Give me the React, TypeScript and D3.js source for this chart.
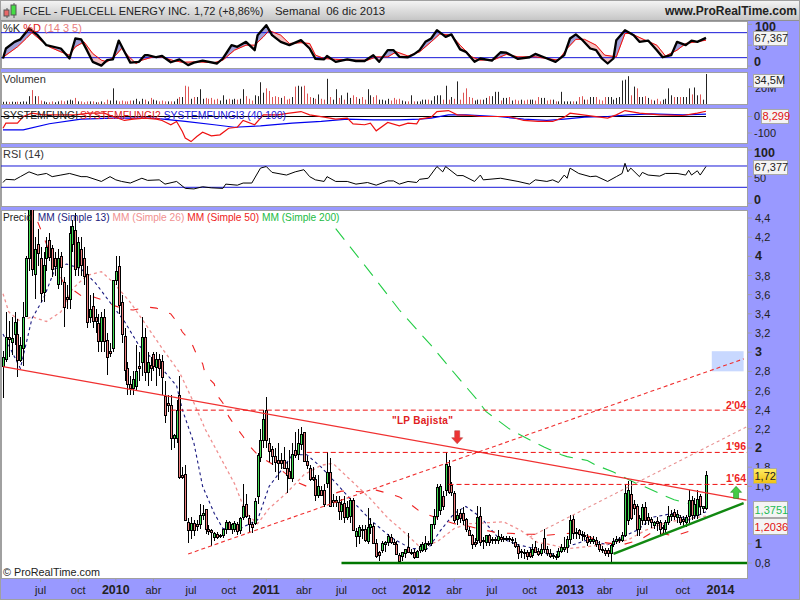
import React, { useEffect } from 'react';
import * as d3 from 'd3';

// weekly candles, index 0 = first visible week
const opens = [2.86,2.93,3.16,3.11,3.19,3.19,2.92,3.04,3.38,3.98,4.5,3.82,4.13,3.98,3.63,3.98,4.17,4.09,3.98,3.71,4.0,3.73,3.58,3.55,4.13,4.27,3.89,4.08,3.98,3.82,3.37,3.48,3.37,3.30,3.12,3.37,3.13,3.01,3.04,3.75,3.9,3.52,3.17,2.83,2.67,2.63,2.65,2.86,2.9,3.16,2.79,2.87,2.98,2.85,2.93,2.91,2.54,2.47,2.45,2.10,2.10,2.55,1.72,1.73,1.23,1.14,1.22,1.21,1.21,1.30,1.36,1.16,1.14,1.07,1.10,1.08,1.09,1.15,1.23,1.15,1.16,1.21,1.14,1.28,1.42,1.27,1.21,1.22,1.50,1.91,2.08,2.40,2.05,1.99,1.92,1.87,1.87,1.87,1.79,1.76,1.69,1.98,1.94,2.04,2.17,1.86,1.79,1.70,1.68,1.51,1.56,1.56,1.63,1.75,1.46,1.44,1.44,1.34,1.43,1.28,1.29,1.46,1.08,1.08,1.16,1.16,1.03,1.18,1.19,1.01,0.91,0.94,1.0,1.02,1.07,1.02,1.0,0.88,0.87,0.9,0.97,0.92,0.92,0.86,0.94,0.94,0.95,1.01,1.01,1.21,1.29,1.35,1.5,1.56,1.81,1.61,1.53,1.26,1.32,1.32,1.26,1.14,1.09,1.02,1.04,1.29,1.04,1.02,1.09,1.05,1.04,1.04,1.07,1.06,1.05,1.06,1.04,1.02,0.98,0.93,0.92,0.91,0.92,0.88,0.97,0.93,0.90,1.06,0.95,0.9,0.88,0.87,0.87,0.93,0.95,0.97,1.05,1.26,1.12,1.14,1.1,1.08,1.07,1.03,1.03,1.04,1.0,0.95,0.94,0.94,0.9,1.0,1.03,1.04,1.04,1.09,1.25,1.52,1.42,1.40,1.16,1.25,1.38,1.28,1.26,1.2,1.24,1.23,1.18,1.16,1.23,1.29,1.33,1.28,1.28,1.26,1.23,1.29,1.46,1.3,1.3,1.5,1.37,1.37];
const highs = [3.01,3.42,3.33,3.37,3.42,3.35,3.16,3.52,4.0,4.7,4.7,4.2,4.29,4.1,4.05,4.2,4.24,4.12,4.05,4.08,4.05,3.78,3.7,4.32,4.38,4.45,4.2,4.2,4.1,3.9,3.6,3.62,3.45,3.4,3.42,3.45,3.2,3.1,3.75,4.0,4.0,3.6,3.25,2.9,2.75,2.8,3.07,3.0,3.37,3.25,3.0,2.95,3.0,3.0,2.98,2.97,2.7,2.55,2.55,2.15,2.5,2.75,1.8,1.82,1.27,1.28,1.25,1.25,1.42,1.41,1.36,1.2,1.16,1.12,1.12,1.1,1.16,1.25,1.24,1.22,1.24,1.23,1.28,1.62,1.52,1.3,1.23,1.48,1.95,2.2,2.4,2.53,2.1,2.02,2.0,2.05,1.95,2.01,1.85,1.98,2.05,2.17,2.2,2.22,2.17,1.92,1.82,1.8,1.72,1.72,1.6,1.62,1.96,1.9,1.52,1.5,1.5,1.47,1.5,1.45,1.48,1.48,1.17,1.2,1.2,1.2,1.37,1.27,1.22,1.05,0.93,1.03,1.03,1.1,1.1,1.05,1.03,0.9,0.92,0.95,1.11,0.95,0.95,0.94,1.0,1.02,1.08,1.03,1.2,1.36,1.62,1.62,1.55,1.96,1.88,1.65,1.55,1.36,1.36,1.38,1.27,1.18,1.1,1.06,1.39,1.38,1.07,1.09,1.1,1.07,1.07,1.14,1.1,1.08,1.08,1.08,1.07,1.06,1.0,0.95,0.95,0.94,0.96,1.0,1.03,0.96,1.0,1.16,0.98,0.95,0.9,0.89,0.96,1.0,1.07,1.08,1.3,1.3,1.17,1.16,1.13,1.12,1.1,1.08,1.08,1.07,1.03,0.98,0.96,0.96,1.0,1.06,1.08,1.07,1.12,1.62,1.66,1.66,1.46,1.42,1.3,1.42,1.44,1.32,1.28,1.24,1.28,1.25,1.2,1.25,1.4,1.35,1.36,1.35,1.3,1.29,1.3,1.56,1.5,1.48,1.56,1.52,1.4,1.76];
const lows = [2.52,2.90,2.95,2.97,3.07,2.74,2.90,2.86,3.37,3.85,3.8,3.55,3.9,3.52,3.52,3.85,3.95,3.78,3.8,3.66,3.7,3.26,3.45,3.45,4.05,3.8,3.8,3.8,3.7,3.25,3.3,3.25,3.2,3.0,3.0,3.0,2.76,2.95,3.0,3.7,3.4,3.1,2.7,2.55,2.55,2.55,2.6,2.7,2.75,2.7,2.65,2.7,2.8,2.65,2.75,2.55,2.26,2.38,1.98,2.0,2.05,1.68,1.68,1.24,1.01,1.05,1.08,1.13,1.15,1.25,1.10,1.09,0.98,1.03,1.05,1.06,1.06,1.1,1.14,1.1,1.12,1.09,1.1,1.25,1.27,1.12,1.11,1.2,1.42,1.85,2.0,2.0,1.85,1.82,1.75,1.67,1.78,1.8,1.53,1.7,1.65,1.9,1.88,1.98,1.85,1.78,1.66,1.66,1.45,1.48,1.5,1.38,1.58,1.38,1.38,1.38,1.25,1.25,1.22,1.25,1.22,1.15,0.97,1.0,1.05,1.02,1.0,1.1,1.0,0.85,0.82,0.9,0.92,0.98,1.0,1.0,0.88,0.82,0.82,0.85,0.9,0.88,0.84,0.85,0.9,0.92,0.92,0.98,0.98,1.15,1.25,1.3,1.35,1.5,1.52,1.5,1.22,1.2,1.22,1.2,1.12,1.08,0.95,0.97,1.0,0.98,0.95,0.98,0.98,1.0,1.0,1.0,1.02,1.02,1.03,1.02,1.0,0.96,0.84,0.85,0.84,0.83,0.85,0.85,0.9,0.87,0.87,0.9,0.87,0.85,0.84,0.83,0.85,0.9,0.92,0.9,1.0,1.05,1.05,1.05,1.03,1.04,0.98,1.0,1.0,0.97,0.92,0.9,0.87,0.86,0.81,0.97,1.0,1.01,1.02,1.07,1.2,1.25,1.3,1.08,1.08,1.2,1.2,1.2,1.17,1.15,1.13,1.08,1.1,1.1,1.2,1.24,1.25,1.22,1.2,1.18,1.18,1.22,1.25,1.26,1.26,1.3,1.32,1.35];
const closes = [2.95,3.16,3.14,3.15,3.31,2.92,3.08,3.37,3.98,4.5,3.87,4.08,4.04,3.62,3.91,4.10,3.99,3.87,3.9,3.98,3.89,3.47,3.56,4.24,4.32,3.87,4.15,3.91,3.79,3.32,3.45,3.33,3.33,3.12,3.37,3.12,2.95,2.99,3.75,3.85,3.49,3.19,2.81,2.67,2.63,2.72,2.8,2.83,3.16,2.79,2.9,2.84,2.86,2.93,2.83,2.74,2.34,2.45,2.10,2.14,2.40,1.70,1.70,1.25,1.14,1.22,1.14,1.19,1.30,1.32,1.16,1.13,1.12,1.11,1.07,1.09,1.15,1.23,1.16,1.21,1.22,1.13,1.27,1.39,1.29,1.21,1.18,1.45,1.93,2.08,2.30,2.08,1.97,1.92,1.85,1.84,1.84,1.79,1.72,1.69,1.94,1.93,2.05,2.15,1.86,1.82,1.68,1.68,1.51,1.60,1.51,1.42,1.75,1.39,1.44,1.46,1.34,1.42,1.28,1.38,1.46,1.14,1.13,1.18,1.14,1.04,1.18,1.21,1.01,0.87,0.88,1.01,1.02,1.08,1.02,1.0,0.89,0.82,0.91,0.95,0.91,0.91,0.86,0.93,0.98,1.0,1.01,1.0,1.21,1.29,1.59,1.6,1.4,1.83,1.54,1.54,1.25,1.30,1.27,1.25,1.16,1.09,1.0,1.0,1.28,1.02,1.03,1.09,1.02,1.04,1.05,1.08,1.05,1.05,1.06,1.05,1.05,0.98,0.9,0.92,0.91,0.87,0.87,0.95,0.92,0.89,0.95,0.95,0.9,0.87,0.87,0.86,0.93,0.97,0.97,1.05,1.25,1.11,1.11,1.1,1.09,1.09,1.02,1.05,1.05,1.0,0.95,0.94,0.9,0.9,0.99,1.03,1.05,1.05,1.09,1.53,1.56,1.27,1.37,1.16,1.27,1.38,1.25,1.25,1.23,1.23,1.22,1.16,1.17,1.23,1.29,1.31,1.29,1.31,1.23,1.24,1.28,1.46,1.3,1.42,1.47,1.39,1.39,1.72];

// volume in millions, one per week
const volume = [2.5,2.7,2.4,2.7,2.4,2.7,2.4,3,2.7,9,16,9,9,4,3,2,2,3,2,3,4,3,4,5,4,7,3,3,2,3,3,3,2,2,3,2,5,4,18,4,3,4,3,3,4,4,6,3,6,5,3,7,5,4,3,4,3,3,3,3,6,8,8,21,20,6,8,8,17,6,7,6,7,5,6,4,10,5,6,5,6,5,6,17,9,6,4,10,9,25,13,18,15,8,9,8,7,9,5,6,8,20,21,20,21,12,8,7,6,11,6,5,29,8,5,17,7,10,5,13,7,10,8,6,8,5,17,10,8,10,5,5,4,6,4,7,5,6,4,3,3,10,3,3,3,5,5,5,4,9,10,10,5,21,5,8,6,26,5,13,18,8,7,4,5,5,5,7,9,9,14,14,4,7,7,8,4,5,4,5,4,5,5,5,4,8,7,7,4,5,5,3,3,14,3,3,3,3,3,8,9,5,5,8,8,8,5,4,8,8,8,5,7,8,27,28,32,10,20,18,8,8,9,7,5,4,6,3,5,6,18,10,8,8,8,8,8,18,11,19,10,11,5,34.5];

const ma13Weeks = [0,6,10,14,18,22,27,32,37,42,47,54,60,62,66,69,73,76,82,88,92,97,100,105,110,114,120,127,134,141,147,151,156,160,165,171,178,184,189,195,202,209,214,219,225,232,237,243];
const ma13Values = [3.19,2.83,3.35,3.56,3.87,3.92,3.87,3.72,3.52,3.32,3.07,2.86,2.65,2.40,2.05,1.6,1.32,1.16,1.16,1.25,1.6,1.8,1.93,1.93,1.8,1.67,1.47,1.25,1.07,0.95,0.95,1.13,1.32,1.39,1.28,1.07,0.99,0.95,0.88,0.97,1.04,0.99,1.07,1.14,1.28,1.32,1.25,1.335];
const ma26Weeks = [0,2,6,10,15,20,24,29,34,38,44,50,55,61,66,70,75,80,84,88,92,98,104,110,114,120,127,133,138,144,150,156,161,167,173,179,185,188,195,202,209,216,222,230,243];
const ma26Values = [3.61,3.42,3.32,3.37,3.32,3.42,3.66,3.80,3.84,3.73,3.52,3.26,3.04,2.79,2.47,2.19,1.91,1.63,1.32,1.21,1.37,1.53,1.72,1.82,1.84,1.67,1.47,1.27,1.14,0.97,1.02,1.16,1.21,1.22,1.23,1.14,1.01,1.0,0.95,0.97,1.0,1.04,1.14,1.23,1.29];
const ma50Weeks = [12,15,18,21,27,30,35,38,42,45,50,53,58,60,62,65,67,69,70,73,74,76,78,80,83,85,88,91,95,101,105,110,113,117,120,125,129,134,137,141,144,149,151,156,159,164,167,172,175,180,183,188,196,201,206,214,220,225,232,240];
const ma50Values = [4.36,4.13,3.90,3.72,3.59,3.59,3.54,3.49,3.45,3.44,3.47,3.46,3.40,3.32,3.21,3.11,2.97,2.88,2.76,2.67,2.55,2.47,2.33,2.24,2.12,2.03,1.93,1.87,1.80,1.65,1.6,1.53,1.51,1.55,1.55,1.54,1.56,1.52,1.49,1.41,1.34,1.28,1.26,1.21,1.20,1.16,1.14,1.11,1.11,1.10,1.10,1.09,1.11,1.10,1.02,0.99,1.04,1.13,1.08,1.16];
const ma200Weeks = [115,127,137,148,158,164,167,171,175,178,183,187,193,195,202,205,211,219,223,228,232,237,242];
const ma200Values = [4.29,3.83,3.44,3.07,2.71,2.5,2.38,2.29,2.2,2.15,2.07,2.01,1.93,1.91,1.87,1.82,1.75,1.63,1.58,1.51,1.46,1.42,1.37];

const kWeeks = [0,1,4,6,9,12,15,20,23,25,27,29,31,34,36,38,40,42,44,47,49,50,53,55,58,61,64,66,69,74,76,79,81,84,87,88,91,93,96,99,103,106,108,111,112,115,119,122,125,128,130,133,135,137,140,142,144,146,148,150,153,155,158,160,163,165,169,172,174,178,182,184,187,191,194,196,198,200,203,205,207,209,211,212,215,218,220,223,226,228,231,233,236,238,240,243];
const kValues = [18,42,58,64,90,74,50,42,18,66,64,38,10,1,14,16,61,34,8,10,26,26,21,24,9,16,2,8,13,6,18,50,46,58,38,74,98,74,58,50,62,42,17,16,24,10,16,12,12,26,10,38,38,22,21,28,38,58,66,86,70,76,40,34,10,18,13,33,32,17,21,29,21,10,26,66,76,64,42,38,18,6,18,62,86,74,58,61,38,21,26,58,50,61,58,67.4];
const dWeeks = [0,5,8,10,13,16,20,23,25,28,31,34,36,39,41,43,46,48,52,55,59,62,67,73,76,80,84,87,90,92,96,99,103,106,108,111,115,121,126,129,133,136,140,144,148,151,155,158,162,165,170,174,178,184,188,192,195,198,201,205,208,212,215,217,222,226,229,233,236,243];
const dValues = [21,46,66,80,62,46,34,26,46,58,30,14,10,26,42,26,6,14,22,21,13,9,10,8,14,38,50,50,70,85,74,54,56,54,26,18,16,14,14,22,22,34,24,34,58,77,74,50,22,14,16,28,22,22,18,14,42,64,64,50,26,22,78,78,62,50,24,38,54,62];

const fungiRedWeeks = [0,1,5,7,10,14,17,21,25,30,35,38,42,45,49,53,55,58,60,62,63,65,67,69,72,75,78,81,83,87,90,95,99,103,106,111,115,119,121,125,127,129,133,137,140,143,144,148,150,154,157,162,165,170,175,180,185,190,194,196,203,209,212,215,220,227,235,240,243];
const fungiRedValues = [-71,-40,-40,0,20,10,10,10,10,20,20,0,-24,-16,-10,-16,-24,-50,-30,-91,-131,-152,-121,-95,-117,-111,-71,-65,-24,-50,10,10,20,30,10,-4,-16,-10,-45,-50,-40,-87,-36,-57,-40,-44,-16,-4,30,36,10,6,0,0,0,-24,-30,-30,-4,20,4,-10,10,36,20,10,6,20,32];
const fungiBlueWeeks = [0,7,16,27,38,52,63,73,80,89,100,110,119,128,137,144,148,154,160,171,180,188,194,201,209,216,224,235,243];
const fungiBlueValues = [-81,-81,-44,-16,-10,-10,-30,-50,-65,-57,-40,-30,-16,-20,-20,-16,-10,10,10,0,-16,-24,-16,-4,0,10,16,10,14];

const rsiWeeks = [0,1,4,6,9,12,15,17,20,23,27,29,34,37,39,41,44,48,50,54,56,60,63,66,69,72,76,77,81,83,86,89,91,93,98,101,104,106,108,111,112,115,119,122,126,129,133,135,137,140,143,144,147,150,152,153,157,159,163,165,166,172,178,182,184,188,190,192,194,195,196,199,203,205,209,212,214,215,216,217,220,221,223,227,229,233,236,237,238,240,241,243];
const rsiValues = [39,45,44,50,59,53,56,50,53,56,50,50,41,50,44,41,38,47,43,44,36,41,28,27,31,29,28,36,34,38,38,66,69,58,53,59,63,50,44,41,50,41,41,36,39,34,42,42,36,41,39,45,47,69,59,69,52,52,41,53,44,47,41,36,44,41,44,39,53,47,66,56,50,51,41,50,56,75,59,66,50,58,53,51,56,56,53,62,53,61,53,69];

// 1,4 and 1,2 sit fully under the value boxes in the reference
const priceTicks = [4.4,4.2,4,3.8,3.6,3.4,3.2,3,2.8,2.6,2.4,2.2,2,1.8,1.6,1,0.8];
const axisWeeks = [13,26,39,52,65,78,91,104,117,130,143,156,169,182,196,208,221,235,248];
const axisLabels = ['jul','oct','2010','abr','jul','oct','2011','abr','jul','oct','2012','abr','jul','oct','2013','abr','jul','oct','2014'];

// drawn trend lines, [week, price]
const downTrend = [[0,2.85],[257,1.457]];
const redRising = [[64,0.894],[256,2.93]];
const pinkRising = [[182,1.07],[257,2.22]];
const greenRising = [[211,0.894],[256,1.425]];
const levels = [{ from: 58, price: 2.395, label: "2'04" }, { from: 105, price: 1.954, label: "1'96" }, { from: 154, price: 1.62, label: "1'64" }];

const FONT = '"Liberation Sans", Arial, sans-serif';
const W = 800, H = 600, LEFT = 1, RIGHT = 747;
const BG = '#9999ff', EDGE = '#a0a0a0', LINE_BLUE = '#1818d8';

const x = d3.scaleLinear().domain([0, 243]).range([3, 706]);
const yPrice = d3.scaleLinear().domain([0.8, 4.4]).range([563, 218]);
const yStoch = d3.scaleLinear().domain([0, 100]).range([66, 24.33]);
const yVol = d3.scaleLinear().domain([0, 34.5]).range([104, 74]);
const yFungi = d3.scaleLinear().domain([-100, 0]).range([133, 116.5]);
const yRsi = d3.scaleLinear().domain([0, 100]).range([203.3, 150]);

const path = (weeks: number[], vals: number[], y: d3.ScaleLinear<number, number>) =>
    d3.line<number>().x((w) => x(w)).y((_, i) => y(vals[i]))(weeks) || '';
const seg = (pts: number[][], y = yPrice) => `M${x(pts[0][0])},${y(pts[0][1])}L${x(pts[1][0])},${y(pts[1][1])}`;

const allWeeks = d3.range(0, 244);
const kAt = d3.scaleLinear().domain(kWeeks).range(kValues);
const dAt = d3.scaleLinear().domain(dWeeks).range(dValues);
const aboveArea = d3.area<number>().x((w) => x(w)).y0((w) => yStoch(dAt(w))).y1((w) => yStoch(Math.max(kAt(w), dAt(w))));
const belowArea = d3.area<number>().x((w) => x(w)).y0((w) => yStoch(dAt(w))).y1((w) => yStoch(Math.min(kAt(w), dAt(w))));

const panels = [
    { id: 'p1', top: 21, bottom: 68 },
    { id: 'p2', top: 72, bottom: 104 },
    { id: 'p3', top: 108, bottom: 143 },
    { id: 'p4', top: 147, bottom: 206 },
    { id: 'p5', top: 210, bottom: 578 },
];

const Box: React.FC<{ x: number; y: number; w: number; h: number; text: string; color?: string; fill?: string; size?: number }> = ({ x: bx, y, w, h, text, color = '#222', fill = '#f4f4f4', size = 11 }) => (
    <g>
        <rect x={bx + 0.5} y={y + 0.5} width={w} height={h} fill={fill} stroke="#a8a8a8" />
        <text x={bx + 1.5} y={y + h - 3} fontSize={size} fill={color}>{text}</text>
    </g>
);

const App: React.FC = () => {
    useEffect(() => {
        document.body.style.margin = '0';
    }, []);

    const tick = (y: number) => <line x1={RIGHT} x2={RIGHT + 5} y1={y} y2={y} stroke={EDGE} />;

    return (
        <svg width={W} height={H} style={{ position: 'fixed', left: 0, top: 0, display: 'block' }} fontFamily={FONT}>
            <defs>
                <linearGradient id="titleGrad" x1="0" y1="0" x2="0" y2="1">
                    <stop offset="0" stopColor="#f6f6f6" />
                    <stop offset="1" stopColor="#c6c6c6" />
                </linearGradient>
                <linearGradient id="priceBox" x1="0" y1="0" x2="0" y2="1">
                    <stop offset="0" stopColor="#ffee66" />
                    <stop offset="1" stopColor="#f0c010" />
                </linearGradient>
                {panels.map((p) => (
                    <clipPath key={p.id} id={p.id}>
                        <rect x={LEFT} y={p.top} width={RIGHT - LEFT} height={p.bottom - p.top} />
                    </clipPath>
                ))}
            </defs>

            <rect width={W} height={H} fill={BG} />
            <rect x={0} y={0} width={W} height={20} fill="url(#titleGrad)" />
            <line x1={0} x2={W} y1={20.5} y2={20.5} stroke="#909090" />
            <rect x={0.5} y={0.5} width={W - 1} height={H - 1} fill="none" stroke="#a0a0a0" />

            {/* title bar */}
            <line x1={7} x2={7} y1={8} y2={18} stroke="#555" />
            <rect x={4} y={10} width={5} height={6} fill="#e86868" stroke="#555" />
            <line x1={14} x2={14} y1={3} y2={18} stroke="#555" />
            <rect x={11} y={5} width={5} height={10} fill="#44dd44" stroke="#555" />
            <text x={23} y={15} fontSize={11} fill="#222">FCEL - FUELCELL ENERGY INC.</text>
            <text x={194} y={15} fontSize={11} fill="#222">1,72 (+8,86%)</text>
            <text x={275} y={15} fontSize={11.4} fill="#222" xmlSpace="preserve" style={{ whiteSpace: 'pre' }}>Semanal  06 dic 2013</text>
            <text x={797} y={15} fontSize={12} fontWeight="700" fill="#222" textAnchor="end">www.ProRealTime.com</text>

            {panels.map((p) => (
                <rect key={p.id} x={LEFT + 0.5} y={p.top + 0.5} width={RIGHT - LEFT} height={p.bottom - p.top} fill="#fff" stroke={EDGE} />
            ))}

            {/* stochastic */}
            <g clipPath="url(#p1)">
                <path d={aboveArea(allWeeks) || ''} fill="#a0a0d8" />
                <path d={belowArea(allWeeks) || ''} fill="#f4c0c0" stroke="#e89090" strokeWidth={0.6} />
                <line x1={LEFT} x2={RIGHT} y1={yStoch(80)} y2={yStoch(80)} stroke={LINE_BLUE} />
                <line x1={LEFT} x2={RIGHT} y1={yStoch(20)} y2={yStoch(20)} stroke={LINE_BLUE} />
                <path d={path(dWeeks, dValues, yStoch)} fill="none" stroke="#ee1111" strokeWidth={1} />
                <path d={path(kWeeks, kValues, yStoch)} fill="none" stroke="#000" strokeWidth={2.3} strokeLinejoin="round" />
            </g>
            <text x={3} y={32} fontSize={11}>
                <tspan fill="#222">%K </tspan><tspan fill="#e02020">%D </tspan><tspan fill="#e88080">(14 3 5)</tspan>
            </text>

            {/* volume */}
            <g clipPath="url(#p2)">
                {volume.map((v, i) => (
                    <line key={i} x1={Math.round(x(i)) + 0.5} x2={Math.round(x(i)) + 0.5} y1={yVol(0)} y2={yVol(v)} strokeWidth={1}
                        stroke={i > 0 && closes[i] < closes[i - 1] ? '#dd5555' : '#222'} />
                ))}
            </g>
            <text x={3} y={83} fontSize={11} fill="#333">Volumen</text>

            {/* systemfungi */}
            <g clipPath="url(#p3)">
                <line x1={LEFT} x2={x(243)} y1={yFungi(0)} y2={yFungi(0)} stroke="#000" />
                <path d={path(fungiBlueWeeks, fungiBlueValues, yFungi)} fill="none" stroke="#0000ee" strokeWidth={1.2} />
                <path d={path(fungiRedWeeks, fungiRedValues, yFungi)} fill="none" stroke="#ee1111" strokeWidth={1.2} />
            </g>
            <text x={3} y={119} fontSize={10.4}>
                <tspan fill="#222">SYSTEMFUNGI </tspan><tspan fill="#e02020" dx={-1}>SYSTEMFUNGI2 </tspan><tspan fill="#2222dd">SYSTEMFUNGI3 (40 100)</tspan>
            </text>

            {/* rsi */}
            <g clipPath="url(#p4)">
                <line x1={LEFT} x2={RIGHT} y1={yRsi(70)} y2={yRsi(70)} stroke={LINE_BLUE} />
                <line x1={LEFT} x2={RIGHT} y1={yRsi(30)} y2={yRsi(30)} stroke={LINE_BLUE} />
                <path d={path(rsiWeeks, rsiValues, yRsi)} fill="none" stroke="#000" strokeWidth={1} />
            </g>
            <text x={3} y={158} fontSize={11} fill="#333">RSI (14)</text>

            {/* price */}
            <g clipPath="url(#p5)">
                <rect x={x(245)} y={yPrice(3.01)} width={x(256) - x(245)} height={yPrice(2.8) - yPrice(3.01)} fill="#c8d8ff" />
                <path d={path(ma13Weeks, ma13Values, yPrice)} fill="none" stroke="#1a1a80" strokeWidth={1.1} strokeDasharray="3 3" />
                <path d={path(ma26Weeks, ma26Values, yPrice)} fill="none" stroke="#f09090" strokeWidth={1.3} strokeDasharray="3 3" />
                <path d={path(ma50Weeks, ma50Values, yPrice)} fill="none" stroke="#ee2222" strokeWidth={1.1} strokeDasharray="8 12" />
                <path d={path(ma200Weeks, ma200Values, yPrice)} fill="none" stroke="#22cc44" strokeWidth={1.1} strokeDasharray="14 9" />

                {allWeeks.map((i) => {
                    const cx = Math.round(x(i)) + 0.5;
                    const top = Math.round(yPrice(Math.max(opens[i], closes[i]))) + 0.5;
                    const bot = Math.round(yPrice(Math.min(opens[i], closes[i]))) + 0.5;
                    return (
                        <g key={i} shapeRendering="crispEdges">
                            <line x1={cx} x2={cx} y1={yPrice(highs[i])} y2={yPrice(lows[i])} stroke="#000" />
                            <rect x={cx - 1} y={top} width={2} height={Math.max(bot - top, 1)}
                                fill={closes[i] >= opens[i] ? '#44dd55' : '#f08080'} stroke="#000" strokeWidth={1} />
                        </g>
                    );
                })}

                <path d={seg(downTrend)} stroke="#f03030" strokeWidth={1.2} fill="none" />
                <path d={seg(redRising)} stroke="#f03030" strokeWidth={1.1} strokeDasharray="4 3" fill="none" />
                <path d={seg(pinkRising)} stroke="#e89090" strokeWidth={1.1} strokeDasharray="3 3" fill="none" />
                <path d={seg(greenRising)} stroke="#118811" strokeWidth={2.4} fill="none" />
                <line x1={x(117)} x2={RIGHT} y1={yPrice(0.8)} y2={yPrice(0.8)} stroke="#007700" strokeWidth={2.4} />
                {levels.map((l) => (
                    <g key={l.label}>
                        <line x1={x(l.from)} x2={RIGHT} y1={yPrice(l.price)} y2={yPrice(l.price)} stroke="#ee1111" strokeWidth={1} strokeDasharray="5 3" />
                        <text x={RIGHT - 1} y={yPrice(l.price) - (l.label === "2'04" ? 1 : 2.5)} fontSize={10.5} fontWeight="700" fill="#ee2222" textAnchor="end">{l.label}</text>
                    </g>
                ))}

                <text x={x(157) - 4} y={yPrice(2.25)} fontSize={10} fontWeight="700" fill="#e02020" textAnchor="end" letterSpacing={0.3}>"LP Bajista"</text>
                <path transform={`translate(${x(157)},${yPrice(2.18)})`} d="M-2.5,0H2.5V7H5.5L0,13L-5.5,7H-2.5Z" fill="#ee3333" stroke="#bb4444" strokeWidth={0.6} />
                <path transform={`translate(${x(253.4)},${yPrice(1.6)})`} d="M0,0L5.5,6H2.5V12H-2.5V6H-5.5Z" fill="#44cc44" stroke="#228822" strokeWidth={0.6} />
            </g>
            <text x={3} y={221} fontSize={10.2}>
                <tspan fill="#222">Precio </tspan><tspan fill="#1a1a80" dx={3}>MM (Simple 13) </tspan><tspan fill="#f09090">MM (Simple 26) </tspan><tspan fill="#ee2222">MM (Simple 50) </tspan><tspan fill="#22bb44">MM (Simple 200)</tspan>
            </text>
            <text x={3} y={576} fontSize={10.8} fill="#222">© ProRealTime.com</text>

            {/* right scales */}
            {priceTicks.map((p) => {
                const whole = Number.isInteger(p);
                return (
                    <g key={p}>
                        {tick(yPrice(p))}
                        <text x={755} y={yPrice(p) + 4} fontSize={whole ? 12.5 : 11} fontWeight={whole ? 700 : 400} fill="#222">
                            {String(p).replace('.', ',')}
                        </text>
                    </g>
                );
            })}
            {tick(yStoch(100))}{tick(yStoch(50))}{tick(yStoch(0))}
            <text x={755} y={31} fontSize={12.5} fontWeight="700" fill="#222">100</text>
            <text x={755} y={50} fontSize={11} fill="#222">50</text>
            <text x={754} y={66} fontSize={12.5} fontWeight="700" fill="#222">0</text>
            {tick(yVol(20))}
            <text x={755} y={92} fontSize={11} fill="#222">20M</text>
            {tick(yFungi(0))}{tick(yFungi(-100))}
            <text x={754} y={120} fontSize={11} fill="#222">0</text>
            <text x={754} y={137} fontSize={11} fill="#222">-100</text>
            {tick(yRsi(100))}{tick(yRsi(50))}{tick(yRsi(0))}
            <text x={754} y={157} fontSize={12.5} fontWeight="700" fill="#222">100</text>
            <text x={754} y={182} fontSize={11} fill="#222">50</text>
            <text x={754} y={204} fontSize={12.5} fontWeight="700" fill="#222">0</text>

            <Box x={753} y={31} w={34} h={14} text="67,367" />
            <Box x={753} y={74} w={30} h={13} text="34,5M" />
            <Box x={761} y={109} w={27} h={14} text="8,299" color="#e01010" />
            <Box x={753} y={160} w={34} h={14} text="67,377" />
            <Box x={753} y={468} w={23} h={15} text="1,72" fill="url(#priceBox)" />
            <Box x={753} y={501} w={34} h={16} text="1,3751" color="#22bb55" />
            <Box x={753} y={518} w={34} h={16} text="1,2036" color="#e01010" />

            {/* time axis */}
            {axisWeeks.map((w, i) => {
                const year = axisLabels[i].length === 4;
                return (
                    <g key={w}>
                        <line x1={x(w)} x2={x(w)} y1={578} y2={582} stroke={EDGE} />
                        <text x={x(w)} y={594} textAnchor="middle" fontSize={year ? 12.5 : 11} fontWeight={year ? 700 : 400} fill="#222">{axisLabels[i]}</text>
                    </g>
                );
            })}
        </svg>
    );
};

export default App;
